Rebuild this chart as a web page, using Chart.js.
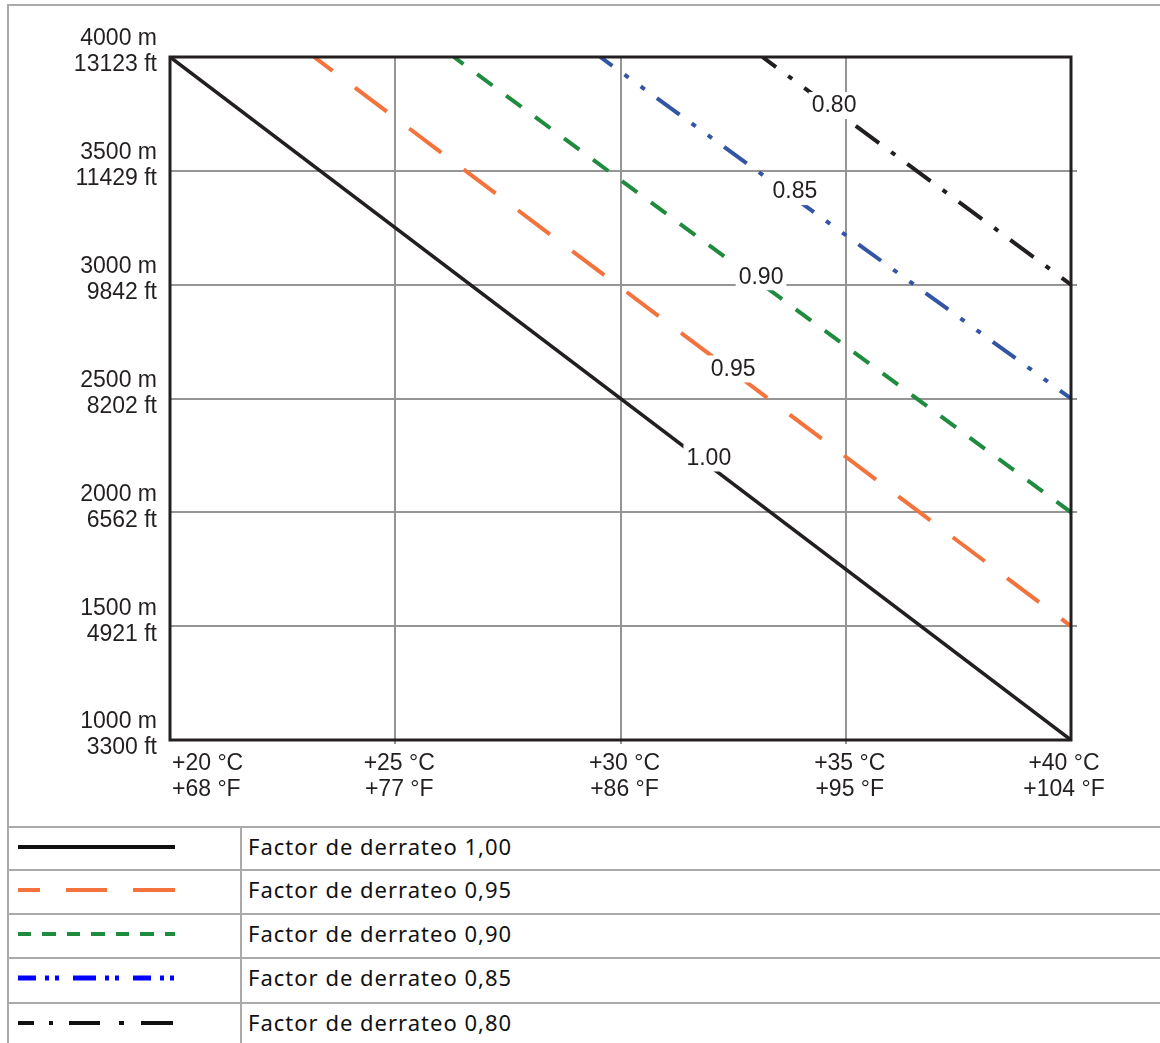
<!DOCTYPE html>
<html>
<head>
<meta charset="utf-8">
<script src="https://cdn.jsdelivr.net/npm/chart.js@4"></script>
<style>
  html,body{margin:0;padding:0;background:#fff;overflow:hidden}
  body{width:1160px;height:1043px;position:relative}
  #frame{position:absolute;left:7px;top:4px;width:1200px;height:1100px;border-left:2px solid #aaa;border-top:2px solid #aaa}
  #chartBox{position:absolute;left:0;top:0;width:1160px;height:826px}
  .row{position:absolute;left:7px;width:1200px;border-top:2px solid #aaa}
  #divider{position:absolute;left:240px;top:826px;width:2px;height:300px;background:#aaa}
  .txt{position:absolute;left:248px;font-family:"Noto Sans",sans-serif;font-size:22px;letter-spacing:1px;color:#111;line-height:24px}
  svg{position:absolute;left:0;top:0}
</style>
</head>
<body>
<div id="frame"></div>
<div id="chartBox"><canvas id="derateChart" width="1160" height="826"></canvas></div>
<div id="legend"></div>

<script>
// derating factors, one line each
const factors    = ["1.00", "0.95", "0.90", "0.85", "0.80"];
const startTemp  = [20, 23.2, 26.3, 29.55, 33.15];   // °C where line leaves 4000 m
const endAlt     = [1000, 1500, 2000, 2500, 3000];   // m where line hits +40 °C
const lineColors = ["#231f20", "#f4733d", "#1e8b3e", "#3355a5", "#231f20"];
const lineDash   = [[], [40, 28], [19, 17], [28, 15, 5, 15, 5, 15], [29, 15, 5, 15]];
const dashOffset = [0, 17, 7, 13, 12];

// in-plot label spots (°C, m)
const labelTemp = [31.96, 32.5, 33.12, 33.87, 34.74];
const labelAlt  = [2241, 2632, 3037, 3411, 3789];

const xTickC  = ["+20 °C", "+25 °C", "+30 °C", "+35 °C", "+40 °C"];
const xTickF  = ["+68 °F", "+77 °F", "+86 °F", "+95 °F", "+104 °F"];
const yTickM  = ["1000 m", "1500 m", "2000 m", "2500 m", "3000 m", "3500 m", "4000 m"];
const yTickFt = ["3300 ft", "4921 ft", "6562 ft", "8202 ft", "9842 ft", "11429 ft", "13123 ft"];

const legendText  = ["Factor de derrateo 1,00", "Factor de derrateo 0,95", "Factor de derrateo 0,90", "Factor de derrateo 0,85", "Factor de derrateo 0,80"];
const legendColor = ["#111111", "#f4733d", "#1e8b3e", "#0000ff", "#111111"];
const legendDash  = [[], [22, 26, 41, 26, 42], [13, 11, 14, 11], [18, 9, 4, 6, 4, 14, 23, 9, 4, 6, 4, 14], [16, 15, 4, 16, 31, 19, 5, 17, 32]];

const FONT = '23px "Liberation Sans", Arial, sans-serif';
const INK = "#231f20";

const datasets = factors.map((f, i) => ({
  label: f,
  data: [{x: startTemp[i], y: 4000}, {x: 40, y: endAlt[i]}],
  borderColor: lineColors[i],
  borderWidth: i === 0 ? 3.5 : 4,
  borderDash: lineDash[i],
  borderDashOffset: dashOffset[i],
  borderCapStyle: "butt",
  pointRadius: 0,
  tension: 0,
  fill: false
}));

const decor = {
  id: "decor",
  afterDraw(chart) {
    const {ctx, chartArea: a, scales: {x, y}} = chart;
    ctx.save();
    // gridline stubs outside the frame
    ctx.strokeStyle = "#959595"; ctx.lineWidth = 2;
    y.ticks.forEach(t => {
      if (t.value === 1000 || t.value === 4000) return;
      const py = Math.round(y.getPixelForValue(t.value));
      ctx.beginPath(); ctx.moveTo(a.right, py); ctx.lineTo(a.right + 6, py); ctx.stroke();
    });
    x.ticks.forEach(t => {
      if (t.value === 20 || t.value === 40) return;
      const px = Math.round(x.getPixelForValue(t.value));
      ctx.beginPath(); ctx.moveTo(px, a.bottom); ctx.lineTo(px, a.bottom + 4); ctx.stroke();
    });
    // frame
    ctx.strokeStyle = INK; ctx.lineWidth = 3;
    ctx.strokeRect(a.left, a.top, a.right - a.left, a.bottom - a.top);

    // factor labels with white box
    ctx.font = FONT; ctx.textAlign = "center"; ctx.textBaseline = "middle";
    factors.forEach((f, i) => {
      const px = x.getPixelForValue(labelTemp[i]), py = y.getPixelForValue(labelAlt[i]);
      const w = ctx.measureText(f).width + 6;
      ctx.fillStyle = "#fff"; ctx.fillRect(px - w / 2, py - 13, w, 27);
      ctx.fillStyle = INK; ctx.fillText(f, px, py + 1);
    });

    // y tick labels
    ctx.textAlign = "right";
    y.ticks.forEach((t, i) => {
      const py = y.getPixelForValue(t.value);
      ctx.fillText(yTickM[i], 157, py - 18);
      ctx.fillText(yTickFt[i], 157, py + 8);
    });
    // x tick labels
    const last = x.ticks.length - 1;
    x.ticks.forEach((t, i) => {
      const px = x.getPixelForValue(t.value);
      let lx = px + 4;
      ctx.textAlign = "center";
      if (i === 0) { ctx.textAlign = "left"; lx = px + 2; }
      if (i === last) lx = px - 7;
      ctx.fillText(xTickC[i], lx, a.bottom + 24);
      ctx.fillText(xTickF[i], lx, a.bottom + 50);
    });
    ctx.restore();
  }
};

new Chart(document.getElementById("derateChart").getContext("2d"), {
  type: "line",
  data: {datasets},
  options: {
    responsive: false,
    animation: false,
    events: [],
    layout: {padding: {left: 170, top: 57, right: 89, bottom: 86}},
    plugins: {legend: {display: false}, tooltip: {enabled: false}},
    scales: {
      x: {
        type: "linear", min: 20, max: 40,
        ticks: {stepSize: 5, display: false},
        grid: {color: "#959595", lineWidth: 2, drawTicks: false},
        border: {display: false},
        afterFit: s => { s.height = 0; }
      },
      y: {
        type: "linear", min: 1000, max: 4000,
        ticks: {stepSize: 500, display: false},
        grid: {color: "#959595", lineWidth: 2, drawTicks: false},
        border: {display: false},
        afterFit: s => { s.width = 0; }
      }
    }
  },
  plugins: [decor]
});

// legend table below the chart
const rowTop = [826, 869, 913, 957, 1002];
const legend = document.getElementById("legend");
let html = "";
rowTop.forEach((top, i) => {
  html += `<div class="row" style="top:${top}px"></div>`;
  html += `<div class="txt" style="top:${top + 8}px">${legendText[i]}</div>`;
});
html += `<div id="divider"></div>`;
html += `<svg width="240" height="1043">` + rowTop.map((top, i) =>
  `<line x1="18" x2="175" y1="${top + 21}" y2="${top + 21}" stroke="${legendColor[i]}" stroke-width="${i === 3 ? 5 : 4}" stroke-dasharray="${legendDash[i].join(" ") || "none"}"/>`
).join("") + `</svg>`;
legend.innerHTML = html;
</script>
</body>
</html>
